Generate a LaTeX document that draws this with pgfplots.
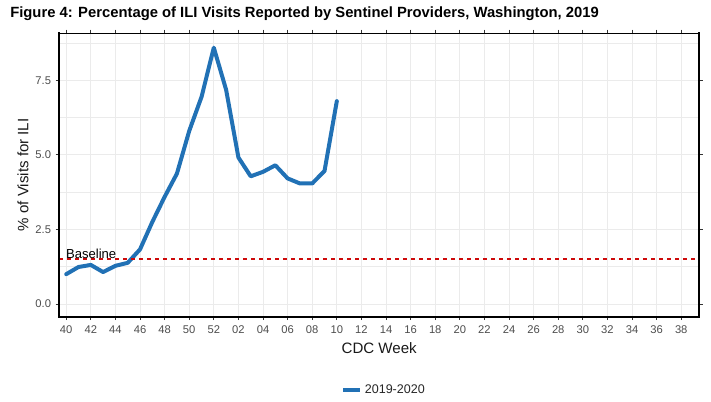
\documentclass[border=0pt]{standalone}
\usepackage{fontspec}
\setmainfont{Liberation Sans}
\usepackage{pgfplots}
\pgfplotsset{compat=1.18}
\definecolor{iliblue}{HTML}{2171B5}
\definecolor{gridgray}{HTML}{EBEBEB}
\definecolor{ticktext}{HTML}{4D4D4D}
\definecolor{basered}{RGB}{205,10,10}
\begin{document}
\begin{tikzpicture}[x=1pt,y=1pt]
\path[use as bounding box] (0,0) rectangle (533.25,-300.75);
\node[anchor=west,inner sep=0,font=\bfseries\fontsize{11.1}{13}\selectfont] at (7.5,-10.2) {Figure 4: Percentage of ILI Visits Reported by Sentinel Providers, Washington, 2019};
\begin{axis}[
  at={(44.4pt,-237.4pt)}, anchor=south west,
  scale only axis, width=480pt, height=212.6pt,
  xmin=-0.57, xmax=51.46, ymin=-0.42, ymax=9.08,
  xtick={0,2,...,50},
  xticklabels={40,42,44,46,48,50,52,02,04,06,08,10,12,14,16,18,20,22,24,26,28,30,32,34,36,38},
  ytick={0,2.5,5,7.5},
  minor ytick={1.25,3.75,6.25,8.75},
  yticklabels={0.0,2.5,5.0,7.5},
  grid=both,
  major grid style={gridgray, line width=0.6pt},
  minor grid style={gridgray, line width=0.4pt},
  tick align=outside,
  major tick length=2.6pt, minor tick length=0pt,
  tick style={black!80, line width=0.6pt},
  axis line style={black, line width=0.75pt},
  ticklabel style={font=\fontsize{8.4}{10}\selectfont, text=ticktext},
  /pgf/number format/assume math mode=true,
  xticklabel style={yshift=-1pt},
  xlabel={CDC Week},
  ylabel={\% of Visits for ILI},
  label style={font=\fontsize{11.3}{13}\selectfont, text=black!90},
  xlabel style={yshift=0.3pt},
  ylabel style={yshift=-1.6pt},
  legend style={at={(0.508,-0.258)}, anchor=center, draw=none, fill=none,
    font=\fontsize{9.4}{11}\selectfont, text=black!85},
  legend image code/.code={\draw[#1, line width=3pt, line cap=butt] (0pt,0pt) -- (12.75pt,0pt);},
  legend cell align=left,
  clip=false,
]
\addplot[iliblue, line width=3pt, line join=round, line cap=round] coordinates {
(0,1.00) (1,1.24) (2,1.31) (3,1.07) (4,1.28) (5,1.38) (6,1.83) (7,2.75) (8,3.59)
(9,4.37) (10,5.80) (11,6.94) (12,8.59) (13,7.18) (14,4.91) (15,4.28) (16,4.43)
(17,4.65) (18,4.21) (19,4.04) (20,4.04) (21,4.46) (22,6.80)
};
\addlegendentry{2019-2020}
\addplot[color=basered, line width=1.3pt, dash pattern=on 3pt off 3pt, forget plot] table[row sep=\\] {x y\\ -0.57 1.5\\ 51.46 1.5\\};
\node[anchor=base west, inner sep=0, font=\fontsize{9.8}{11}\selectfont] at (axis cs:-0.03,1.54) {Baseline};
\draw[black, line width=1.5pt, line cap=rect] (rel axis cs:0,1) -- (rel axis cs:0,0) -- (rel axis cs:1,0) -- (rel axis cs:1,1);
\end{axis}
\end{tikzpicture}
\end{document}
